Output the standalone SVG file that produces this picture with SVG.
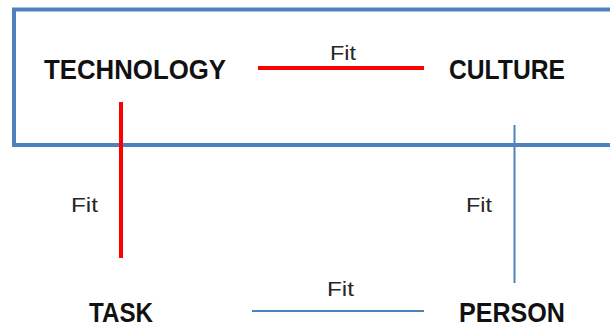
<svg xmlns="http://www.w3.org/2000/svg" width="610" height="325" viewBox="0 0 610 325">
<style>
.node{font-family:"Liberation Sans",Arial,sans-serif;font-weight:bold;font-size:28px;fill:#111;}
.lbl{font-family:"Liberation Sans",Arial,sans-serif;font-size:21px;fill:#262626;}
.red{stroke:#FF0000;stroke-width:4;fill:none;}
.blue{stroke:#4F81BD;stroke-width:2;fill:none;}
</style>
<rect width="610" height="325" fill="#fff"/>
<rect x="14" y="9.5" width="620" height="135.5" fill="none" stroke="#4F81BD" stroke-width="4"/>
<g id="connectors">
<line class="red" x1="258" y1="68" x2="424" y2="68"/>
<line class="red" x1="121" y1="102" x2="121" y2="258"/>
<line class="blue" x1="514.5" y1="125" x2="514.5" y2="283"/>
<line class="blue" x1="252" y1="311" x2="424" y2="311"/>
<text class="lbl" x="330" y="60" textLength="26" lengthAdjust="spacingAndGlyphs">Fit</text>
<text class="lbl" x="71" y="211.5" textLength="27" lengthAdjust="spacingAndGlyphs">Fit</text>
<text class="lbl" x="466" y="211.5" textLength="26" lengthAdjust="spacingAndGlyphs">Fit</text>
<text class="lbl" x="327" y="296" textLength="27" lengthAdjust="spacingAndGlyphs">Fit</text>
</g>
<g id="technology"><text class="node" x="44" y="79" textLength="182" lengthAdjust="spacingAndGlyphs">TECHNOLOGY</text></g>
<g id="culture"><text class="node" x="449" y="79" textLength="116" lengthAdjust="spacingAndGlyphs">CULTURE</text></g>
<g id="task"><text class="node" x="89" y="322" textLength="64" lengthAdjust="spacingAndGlyphs">TASK</text></g>
<g id="person"><text class="node" x="459" y="322" textLength="106" lengthAdjust="spacingAndGlyphs">PERSON</text></g>
</svg>
